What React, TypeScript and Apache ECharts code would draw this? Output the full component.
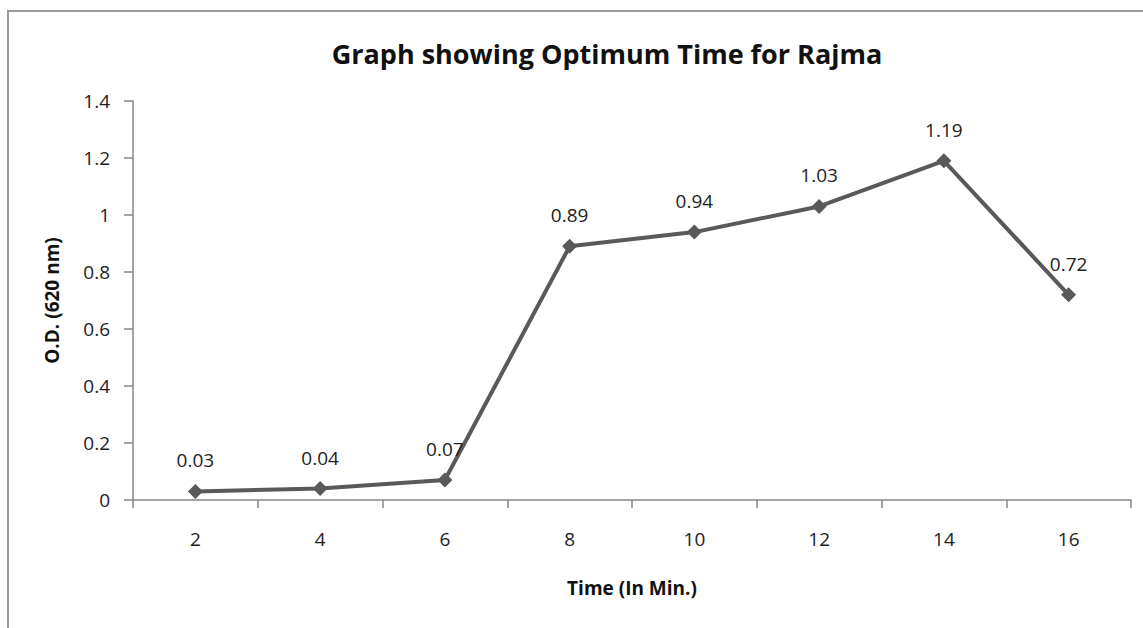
import React, { useEffect, useRef } from "react";
import * as echarts from "echarts";

const categories = ["2", "4", "6", "8", "10", "12", "14", "16"];
const odValues = [0.03, 0.04, 0.07, 0.89, 0.94, 1.03, 1.19, 0.72];
const titleText = "Graph showing Optimum Time for Rajma";
const xName = "Time (In Min.)";
const yName = "O.D. (620 nm)";

export default function App() {
  const ref = useRef<HTMLDivElement>(null);
  useEffect(() => {
    if (!ref.current) return;
    const chart = echarts.init(ref.current, null, { renderer: "svg" });
    const font = "'Open Sans', sans-serif";
    chart.setOption({
      animation: false,
      backgroundColor: "#ffffff",
      title: {
        text: titleText,
        left: 602,
        top: 35,
        textAlign: "center",
        textStyle: { fontFamily: font, fontSize: 27, fontWeight: "bold", color: "#111" },
      },
      graphic: [
        {
          type: "rect",
          shape: { x: 8, y: 11, width: 1200, height: 700 },
          style: { fill: "none", stroke: "#9a9a9a", lineWidth: 2 },
          silent: true,
        },
      ],
      grid: { left: 133, right: 12, top: 101, bottom: 128 },
      xAxis: {
        type: "category",
        data: categories,
        boundaryGap: true,
        name: xName,
        nameLocation: "middle",
        nameGap: 78,
        nameTextStyle: { fontFamily: font, fontSize: 19, fontWeight: "bold", color: "#111" },
        axisLine: { lineStyle: { color: "#868686", width: 1.5 } },
        axisTick: { show: true, length: 8, alignWithLabel: false, lineStyle: { color: "#868686", width: 1.5 } },
        axisLabel: { margin: 29, fontFamily: font, fontSize: 19, color: "#222" },
        splitLine: { show: false },
      },
      yAxis: {
        type: "value",
        min: 0,
        max: 1.4,
        interval: 0.2,
        name: yName,
        nameLocation: "middle",
        nameRotate: 90,
        nameGap: 72,
        nameTextStyle: { fontFamily: font, fontSize: 19, fontWeight: "bold", color: "#111" },
        axisLine: { show: true, lineStyle: { color: "#868686", width: 1.5 } },
        axisTick: { show: true, length: 9, lineStyle: { color: "#868686", width: 1.5 } },
        axisLabel: { margin: 23, fontFamily: font, fontSize: 19, color: "#222" },
        splitLine: { show: false },
      },
      series: [
        {
          type: "line",
          data: odValues,
          symbol: "diamond",
          symbolSize: 15,
          itemStyle: { color: "#595959" },
          lineStyle: { color: "#595959", width: 4 },
          label: {
            show: true,
            position: "top",
            distance: 14,
            fontFamily: font,
            fontSize: 19,
            color: "#222",
          },
        },
      ],
    });
    return () => chart.dispose();
  }, []);
  return (
    <div
      ref={ref}
      style={{ position: "absolute", left: 0, top: 0, width: 1143, height: 628 }}
    />
  );
}
